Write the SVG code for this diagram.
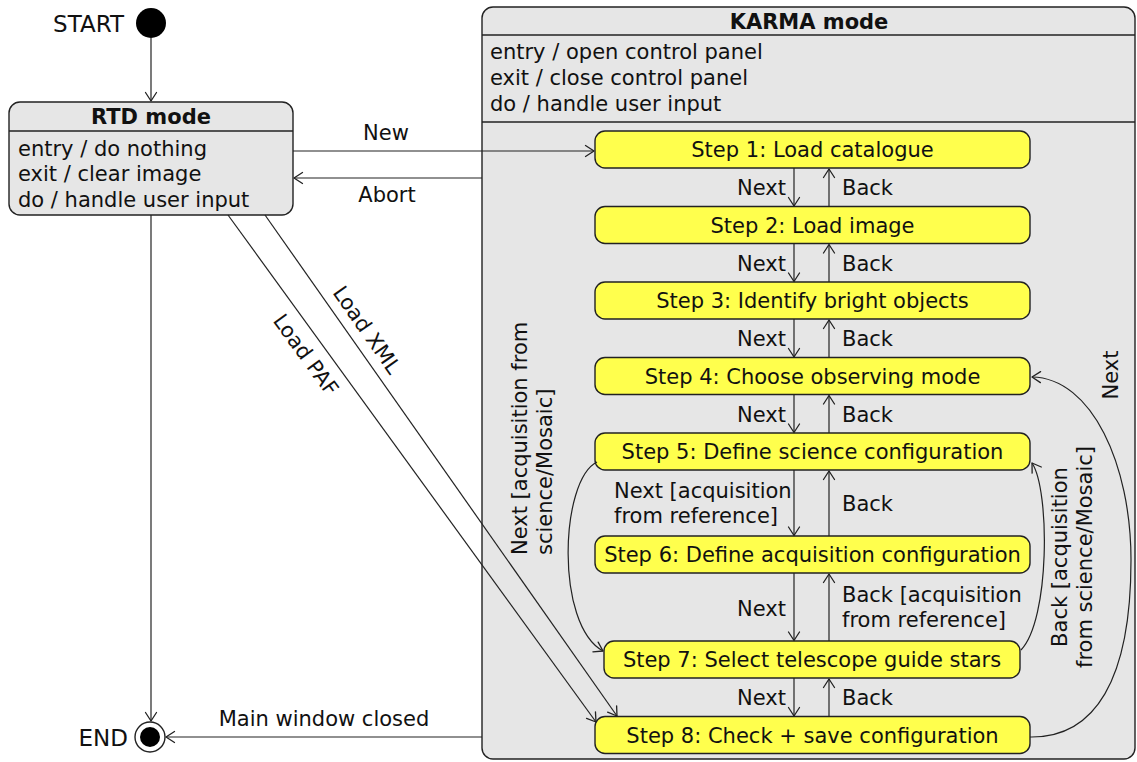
<svg xmlns="http://www.w3.org/2000/svg" width="1137" height="762" viewBox="0 0 1137 762">
<defs>
<marker id="arr" markerUnits="userSpaceOnUse" markerWidth="20" markerHeight="20" refX="0" refY="0" viewBox="-12 -10 14 20" orient="auto" overflow="visible">
<path d="M-8.5,-5.5 L0,0 L-8.5,5.5" fill="none" stroke="#222" stroke-width="1.3" stroke-linecap="round" stroke-linejoin="round"/>
</marker>
</defs>
<style>
.box{fill:#e6e6e6;stroke:#222;stroke-width:1.4}
.step{fill:#ffff4d;stroke:#222;stroke-width:1.4}
.sep{stroke:#222;stroke-width:1.4}
text{font-family:"DejaVu Sans",sans-serif;font-size:21px;fill:#111}
.big{font-size:23px}
.b{font-weight:bold}
.c{text-anchor:middle}
.e{text-anchor:end}
.conn path{fill:none;stroke:#222;stroke-width:1.2;marker-end:url(#arr)}
</style>
<rect width="1137" height="762" fill="#ffffff"/>

<g id="start">
<circle cx="151" cy="23" r="15" fill="#000"/>
<text x="124" y="32" class="e big">START</text>
</g>

<g id="end">
<circle cx="150" cy="737" r="15" fill="#fff" stroke="#222" stroke-width="1.4"/>
<circle cx="150" cy="737" r="10" fill="#000"/>
<text x="128" y="746" class="e big">END</text>
</g>

<g id="rtd">
<rect class="box" x="9" y="102" width="284" height="113" rx="11"/>
<line class="sep" x1="9" y1="131" x2="293" y2="131"/>
<text x="151" y="124" class="c b">RTD mode</text>
<text x="18" y="156">entry / do nothing</text>
<text x="18" y="181">exit / clear image</text>
<text x="18" y="207">do / handle user input</text>
</g>

<g id="karma">
<rect class="box" x="482" y="7" width="653" height="752" rx="11"/>
<line class="sep" x1="482" y1="35" x2="1135" y2="35"/>
<line class="sep" x1="482" y1="122" x2="1135" y2="122"/>
<text x="809" y="29" class="c b">KARMA mode</text>
<text x="490" y="59">entry / open control panel</text>
<text x="490" y="85">exit / close control panel</text>
<text x="490" y="111">do / handle user input</text>
</g>

<g id="step1"><rect class="step" x="595" y="131" width="435" height="37" rx="10"/><text x="812.5" y="157" class="c">Step 1: Load catalogue</text></g>
<g id="step2"><rect class="step" x="595" y="206.5" width="435" height="37" rx="10"/><text x="812.5" y="232.5" class="c">Step 2: Load image</text></g>
<g id="step3"><rect class="step" x="595" y="282" width="435" height="37" rx="10"/><text x="812.5" y="308" class="c">Step 3: Identify bright objects</text></g>
<g id="step4"><rect class="step" x="595" y="357.5" width="435" height="37" rx="10"/><text x="812.5" y="383.5" class="c">Step 4: Choose observing mode</text></g>
<g id="step5"><rect class="step" x="595" y="433" width="435" height="37" rx="10"/><text x="812.5" y="459" class="c">Step 5: Define science configuration</text></g>
<g id="step6"><rect class="step" x="595" y="536" width="435" height="37" rx="10"/><text x="812.5" y="562" class="c">Step 6: Define acquisition configuration</text></g>
<g id="step7"><rect class="step" x="604" y="641" width="416" height="37" rx="10"/><text x="812" y="667" class="c">Step 7: Select telescope guide stars</text></g>
<g id="step8"><rect class="step" x="595" y="716.5" width="435" height="37" rx="10"/><text x="812.5" y="742.5" class="c">Step 8: Check + save configuration</text></g>

<g id="connectors" class="conn">
<path d="M151,38 L151,101"/>
<path d="M151,215 L151,721"/>
<path d="M293,151 L594,151"/>
<path d="M482,178 L294,178"/>
<path d="M482,737 L166,737"/>
<path d="M228,215 L596,722"/>
<path d="M265,215 L617,716"/>

<path d="M794,168 L794,206"/>
<path d="M829,206.5 L829,169"/>
<path d="M794,243.5 L794,281.5"/>
<path d="M829,282 L829,244.5"/>
<path d="M794,319 L794,357"/>
<path d="M829,357.5 L829,320"/>
<path d="M794,394.5 L794,432.5"/>
<path d="M829,433 L829,395.5"/>
<path d="M794,470 L794,535.5"/>
<path d="M829,536 L829,471"/>
<path d="M794,573 L794,640.5"/>
<path d="M829,641 L829,574"/>
<path d="M794,678 L794,716"/>
<path d="M829,716.5 L829,679"/>

<path d="M597,462 C560,480 555,625 603,651"/>
<path d="M1021,650 C1050,620 1050,490 1032,463"/>
<path d="M1030,737 C1095,738 1131,680 1131,560 C1131,465 1092,378 1032,377"/>

<text x="386" y="140" class="c">New</text>
<text x="387" y="202" class="c">Abort</text>
<text x="324" y="726" class="c">Main window closed</text>
<text transform="translate(361,334) rotate(55)" class="c">Load XML</text>
<text transform="translate(300,359) rotate(54)" class="c">Load PAF</text>

<text x="786" y="195" class="e">Next</text>
<text x="842" y="195">Back</text>
<text x="786" y="271" class="e">Next</text>
<text x="842" y="271">Back</text>
<text x="786" y="346" class="e">Next</text>
<text x="842" y="346">Back</text>
<text x="786" y="422" class="e">Next</text>
<text x="842" y="422">Back</text>
<text x="614" y="498">Next [acquisition</text>
<text x="614" y="523">from reference]</text>
<text x="842" y="511">Back</text>
<text x="786" y="616" class="e">Next</text>
<text x="842" y="602">Back [acquisition</text>
<text x="842" y="627">from reference]</text>
<text x="786" y="705" class="e">Next</text>
<text x="842" y="705">Back</text>

<text transform="translate(527,555) rotate(-90)">Next [acquisition from<tspan x="0" y="24.5">science/Mosaic]</tspan></text>
<text transform="translate(1067,557) rotate(-90)" class="c">Back [acquisition<tspan x="0" y="24.5">from science/Mosaic]</tspan></text>
<text transform="translate(1118,375) rotate(-90)" class="c">Next</text>
</g>
</svg>
